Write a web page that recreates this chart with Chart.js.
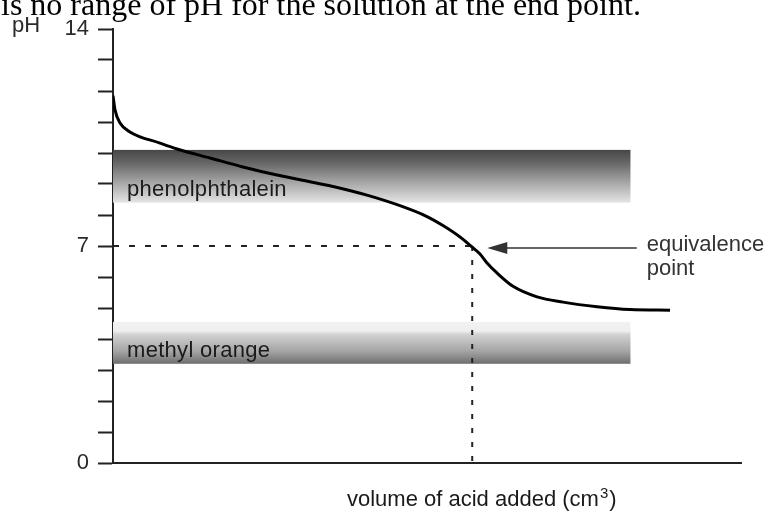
<!DOCTYPE html>
<html>
<head>
<meta charset="utf-8">
<script src="https://cdn.jsdelivr.net/npm/chart.js@4"></script>
<style>
  html, body { margin: 0; padding: 0; background: #fff; }
  #wrap { position: relative; width: 771px; height: 511px; overflow: hidden; }
  #lead {
    position: absolute; left: 1px; top: -12px;
    font: 32px/32px 'Liberation Serif', 'Times New Roman', serif;
    color: #000; white-space: nowrap;
  }
  canvas { position: absolute; left: 0; top: 0; }
</style>
</head>
<body>
<div id="wrap">
  <canvas id="chart" width="771" height="511"></canvas>
  <div id="lead">is no range of pH for the solution at the end point.</div>
</div>
<script>
(function() {
  'use strict';
  // titration curve: volume of acid (cm3) against pH
  const volume = [0, 0.16, 0.56, 1.35, 3.74, 5.1, 7.72, 10.35, 13.06, 14.89, 17.52, 20.22, 22.85,
    25.0, 26.27, 27.63, 28.58, 29.2, 29.78, 30.57, 31.85, 33.76, 35.83, 38.54, 41.16, 44.35];
  const ph = [11.85, 11.39, 10.97, 10.68, 10.32, 10.13, 9.84, 9.55, 9.29, 9.14, 8.92, 8.64, 8.3,
    7.95, 7.66, 7.29, 6.97, 6.75, 6.45, 6.13, 5.7, 5.36, 5.19, 5.04, 4.95, 4.93];
  // equivalence point
  const eqVolume = 28.6;
  const eqPh = 7;
  // indicator ranges
  const bandNames = ['phenolphthalein', 'methyl orange'];
  const bandLow = [8.4, 3.2];
  const bandHigh = [10.1, 4.55];
  const bandEnd = [41.2, 41.2];
  // labelled y ticks
  const yLabels = [0, 7, 14];
  // arrow to the equivalence point
  const arrowFrom = 41.7;
  const arrowTo = 29.8;
  const eqLabel = ['equivalence', 'point'];
  const xTitle = 'volume of acid added (cm';

  const FONT = "'Liberation Sans', Arial, sans-serif";

  // gradients for the two bands (top -> bottom)
  const bandShades = [
    [[0, '#474747'], [0.25, '#676767'], [0.6, '#a3a3a3'], [1, '#e4e4e4']],
    [[0, '#f2f2f2'], [0.22, '#eeeeee'], [0.3, '#d2d2d2'], [0.7, '#a4a4a4'], [1, '#6e6e6e']],
  ];

  const notes = {
    id: 'notes',
    beforeDatasetsDraw(chart) {
      const ctx = chart.ctx;
      const xs = chart.scales.x;
      const ys = chart.scales.y;
      ctx.save();
      bandNames.forEach(function(name, i) {
        const left = xs.getPixelForValue(0);
        const right = xs.getPixelForValue(bandEnd[i]);
        const top = ys.getPixelForValue(bandHigh[i]);
        const bottom = ys.getPixelForValue(bandLow[i]);
        const grad = ctx.createLinearGradient(0, top, 0, bottom);
        bandShades[i].forEach(function(s) { grad.addColorStop(s[0], s[1]); });
        ctx.fillStyle = grad;
        ctx.fillRect(left, top, right - left, bottom - top);
        ctx.fillStyle = '#1a1a1a';
        ctx.font = '22px ' + FONT;
        ctx.letterSpacing = '0.3px';
        ctx.textBaseline = 'alphabetic';
        ctx.textAlign = 'left';
        ctx.fillText(name, left + 14, bottom - 7);
      });
      ctx.restore();
    },
    afterDatasetsDraw(chart) {
      const ctx = chart.ctx;
      const xs = chart.scales.x;
      const ys = chart.scales.y;
      const yPx = ys.getPixelForValue(eqPh) + 2;
      const x0 = xs.getPixelForValue(arrowFrom);
      const x1 = xs.getPixelForValue(arrowTo);
      ctx.save();
      // arrow shaft and head
      ctx.strokeStyle = '#333';
      ctx.lineWidth = 1.5;
      ctx.beginPath();
      ctx.moveTo(x0, yPx);
      ctx.lineTo(x1 + 10, yPx);
      ctx.stroke();
      ctx.fillStyle = '#333';
      ctx.beginPath();
      ctx.moveTo(x1, yPx);
      ctx.lineTo(x1 + 20, yPx - 6);
      ctx.lineTo(x1 + 20, yPx + 6);
      ctx.closePath();
      ctx.fill();
      // label
      ctx.font = '22px ' + FONT;
      ctx.textAlign = 'left';
      ctx.textBaseline = 'middle';
      ctx.fillText(eqLabel[0], x0 + 10, yPx - 3);
      ctx.fillText(eqLabel[1], x0 + 10, yPx + 21);
      // x axis title with superscript
      const tx = (xs.left + xs.right) / 2 - 80;
      const ty = 506;
      ctx.textBaseline = 'alphabetic';
      ctx.fillStyle = '#1a1a1a';
      ctx.fillText(xTitle, tx, ty);
      let w = ctx.measureText(xTitle).width;
      ctx.font = '15px ' + FONT;
      ctx.fillText('3', tx + w + 1, ty - 8);
      w += ctx.measureText('3').width + 2;
      ctx.font = '22px ' + FONT;
      ctx.fillText(')', tx + w, ty);
      ctx.restore();
    }
  };

  new Chart(document.getElementById('chart'), {
    type: 'line',
    data: {
      datasets: [{
        data: volume.map(function(v, i) { return { x: v, y: ph[i] }; }),
        borderColor: '#000',
        borderWidth: 3,
        pointRadius: 0,
        cubicInterpolationMode: 'monotone',
        order: 1,
      }, {
        data: [{ x: 0, y: eqPh }, { x: eqVolume, y: eqPh }],
        borderColor: '#222',
        borderWidth: 2,
        borderDash: [6, 10],
        pointRadius: 0,
        order: 2,
      }, {
        data: [{ x: eqVolume, y: eqPh }, { x: eqVolume, y: 0 }],
        borderColor: '#222',
        borderWidth: 2,
        borderDash: [5, 9],
        pointRadius: 0,
        order: 2,
      }],
    },
    options: {
      responsive: false,
      animation: false,
      layout: { padding: { top: 29, right: 30, left: 0, bottom: 0 } },
      plugins: { legend: { display: false }, tooltip: { enabled: false } },
      scales: {
        x: {
          type: 'linear',
          min: 0,
          max: 50,
          ticks: { display: false },
          grid: { display: false },
          border: { display: true, color: '#222', width: 2 },
          afterFit(scale) { scale.height = 48; },
        },
        y: {
          min: 0,
          max: 14,
          ticks: {
            stepSize: 1,
            autoSkip: false,
            padding: 9,
            color: '#2a2a2a',
            font: { family: FONT, size: 22 },
            callback: function(v) { return yLabels.indexOf(v) >= 0 ? String(v) : ''; },
          },
          grid: { drawOnChartArea: false, drawTicks: true, tickLength: 15, tickColor: '#222', tickWidth: 2 },
          border: { display: true, color: '#222', width: 2 },
          afterFit(scale) { scale.width = 113; },
        },
      },
    },
    plugins: [notes],
  });

  // "pH" unit beside the top tick
  const c = document.getElementById('chart').getContext('2d');
  c.save();
  c.font = '22px ' + FONT;
  c.fillStyle = '#2a2a2a';
  c.textBaseline = 'middle';
  c.fillText('pH', 12, 26);
  c.restore();
})();
</script>
</body>
</html>
